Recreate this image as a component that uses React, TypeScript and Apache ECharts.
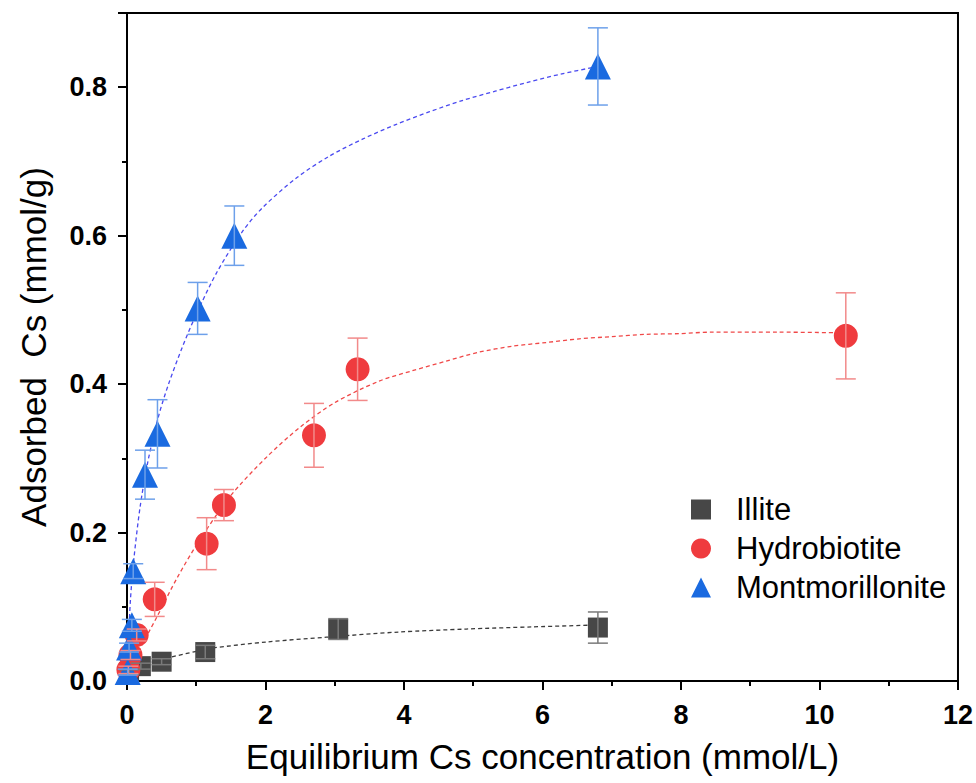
import React, { useEffect, useRef } from "react";
import * as echarts from "echarts";

// ---- Data ----
const illiteX = [0.03, 0.2, 0.5, 1.13, 3.05, 6.8];
const illiteY = [0.012, 0.02, 0.026, 0.039, 0.07, 0.072];
const illiteErr = [0.003, 0.004, 0.004, 0.009, 0.014, 0.021];

const hydroX = [0.02, 0.05, 0.14, 0.4, 1.15, 1.4, 2.7, 3.33, 10.38];
const hydroY = [0.015, 0.035, 0.062, 0.11, 0.185, 0.237, 0.331, 0.42, 0.465];
const hydroErr = [0.005, 0.006, 0.008, 0.023, 0.035, 0.021, 0.043, 0.042, 0.058];

const montX = [0.01, 0.03, 0.07, 0.09, 0.26, 0.44, 1.02, 1.55, 6.8];
const montY = [0.012, 0.045, 0.075, 0.148, 0.278, 0.333, 0.502, 0.6, 0.828];
const montErr = [0.004, 0.006, 0.008, 0.01, 0.033, 0.046, 0.035, 0.04, 0.052];

// fitted curves
const illiteFitX = [0, 0.2, 0.5, 1.05, 1.24, 2.02, 2.88, 3.93, 4.9, 5.85, 6.8];
const illiteFitY = [0.008, 0.02, 0.029, 0.041, 0.0445, 0.0526, 0.059, 0.066, 0.07, 0.0729, 0.0755];

const hydroFitX = [0, 0.14, 0.43, 0.73, 1.05, 1.5, 2.02, 2.5, 3.0, 3.64, 4.12, 4.61, 5.08, 5.56, 6.05, 6.53, 7.0, 7.49, 7.97, 8.44, 9.41, 10.38];
const hydroFitY = [0.005, 0.035, 0.086, 0.14, 0.19, 0.25, 0.302, 0.342, 0.375, 0.404, 0.418, 0.431, 0.443, 0.451, 0.456, 0.461, 0.464, 0.467, 0.468, 0.47, 0.47, 0.469];

const montFitX = [0, 0.02, 0.05, 0.1, 0.19, 0.3, 0.45, 0.6, 0.8, 1.0, 1.3, 1.67, 1.96, 2.45, 2.92, 3.4, 3.89, 4.37, 4.84, 5.33, 5.8, 6.28, 6.8];
const montFitY = [0, 0.05, 0.11, 0.165, 0.235, 0.295, 0.355, 0.4, 0.45, 0.494, 0.551, 0.606, 0.638, 0.678, 0.707, 0.73, 0.75, 0.767, 0.782, 0.795, 0.807, 0.818, 0.828];

const seriesNames = ["Illite", "Hydrobiotite", "Montmorillonite"];
const xTickValues = [0, 2, 4, 6, 8, 10, 12];
const yTickValues = [0, 0.2, 0.4, 0.6, 0.8];

const FONT = "Liberation Sans, Arial, sans-serif";

function zip(xs: number[], ys: number[]) {
  return xs.map((x, i) => [x, ys[i]]);
}
function zip3(xs: number[], ys: number[], es: number[]) {
  return xs.map((x, i) => [x, ys[i], es[i]]);
}

function errorSeries(name: string, data: number[][], color: string) {
  return {
    type: "custom",
    name: name + " error",
    data,
    encode: { x: 0, y: 1 },
    z: 5,
    renderItem: (params: any, api: any) => {
      const x = api.value(0);
      const y = api.value(1);
      const e = api.value(2);
      const top = api.coord([x, y + e]);
      const bot = api.coord([x, y - e]);
      const hw = 10;
      const style = { stroke: color, lineWidth: 1.5 };
      return {
        type: "group",
        children: [
          { type: "line", shape: { x1: top[0], y1: top[1], x2: bot[0], y2: bot[1] }, style },
          { type: "line", shape: { x1: top[0] - hw, y1: top[1], x2: top[0] + hw, y2: top[1] }, style },
          { type: "line", shape: { x1: bot[0] - hw, y1: bot[1], x2: bot[0] + hw, y2: bot[1] }, style },
        ],
      };
    },
  };
}

function fitSeries(name: string, data: number[][], color: string) {
  return {
    type: "line",
    name: name + " fit",
    data,
    smooth: 0.3,
    symbol: "none",
    z: 2,
    lineStyle: { color, width: 1.3, type: [4, 3] },
  };
}

export default function App() {
  const ref = useRef<HTMLDivElement>(null);
  useEffect(() => {
    if (!ref.current) return;
    const chart = echarts.init(ref.current, undefined, { renderer: "svg" });
    const option: any = {
      animation: false,
      backgroundColor: "#fff",
      grid: {
        left: 127,
        right: 16,
        top: 13,
        bottom: 102,
        show: true,
        borderColor: "#000",
        borderWidth: 2,
        backgroundColor: "transparent",
      },
      legend: {
        orient: "vertical",
        left: 686,
        top: 489,
        itemGap: 8,
        itemWidth: 20,
        itemHeight: 20,
        data: seriesNames,
        textStyle: { fontFamily: FONT, fontSize: 31, color: "#000", padding: [0, 0, 0, 20] },
      },
      xAxis: {
        type: "value",
        min: 0,
        max: 12,
        interval: 2,
        name: "Equilibrium Cs concentration (mmol/L)",
        nameLocation: "middle",
        nameGap: 58,
        nameTextStyle: { fontFamily: FONT, fontSize: 35, color: "#000" },
        axisLine: { show: true, onZero: false, lineStyle: { color: "#000", width: 2 } },
        axisTick: { show: true, length: 9, inside: false, lineStyle: { color: "#000", width: 2 } },
        minorTick: { show: true, splitNumber: 2, length: 5, lineStyle: { color: "#000", width: 2 } },
        splitLine: { show: false },
        axisLabel: {
          fontFamily: FONT,
          fontSize: 27,
          fontWeight: "bold",
          color: "#000",
          margin: 20,
          formatter: (v: number) => (xTickValues.includes(v) ? String(v) : ""),
        },
      },
      yAxis: {
        type: "value",
        min: 0,
        max: 0.9,
        interval: 0.2,
        name: "Adsorbed  Cs (mmol/g)",
        nameLocation: "middle",
        nameGap: 76,
        nameTextStyle: { fontFamily: FONT, fontSize: 35, color: "#000" },
        axisLine: { show: true, onZero: false, lineStyle: { color: "#000", width: 2 } },
        axisTick: { show: true, length: 9, inside: false, lineStyle: { color: "#000", width: 2 } },
        minorTick: { show: true, splitNumber: 2, length: 5, lineStyle: { color: "#000", width: 2 } },
        splitLine: { show: false },
        axisLabel: {
          fontFamily: FONT,
          fontSize: 27,
          fontWeight: "bold",
          color: "#000",
          margin: 20,
          showMaxLabel: false,
          formatter: (v: number) => {
            const hit = yTickValues.find((t) => Math.abs(t - v) < 1e-9);
            return hit === undefined ? "" : hit.toFixed(1);
          },
        },
      },
      series: [
        fitSeries("Illite", zip(illiteFitX, illiteFitY), "#3a3a3a"),
        fitSeries("Hydrobiotite", zip(hydroFitX, hydroFitY), "#f04848"),
        fitSeries("Montmorillonite", zip(montFitX, montFitY), "#4a4af0"),
        {
          type: "scatter",
          name: "Illite",
          data: zip(illiteX, illiteY),
          symbol: "rect",
          symbolSize: 20,
          z: 4,
          itemStyle: { color: "#474747", opacity: 1 },
        },
        {
          type: "scatter",
          name: "Hydrobiotite",
          data: zip(hydroX, hydroY),
          symbol: "circle",
          symbolSize: 24,
          z: 4,
          itemStyle: { color: "#ef3b3e", opacity: 1 },
        },
        {
          type: "scatter",
          name: "Montmorillonite",
          data: zip(montX, montY),
          symbol: "triangle",
          symbolSize: 26,
          z: 4,
          itemStyle: { color: "#1a6ae0", opacity: 1 },
        },
        errorSeries("Illite", zip3(illiteX, illiteY, illiteErr), "#7a7a7a"),
        errorSeries("Hydrobiotite", zip3(hydroX, hydroY, hydroErr), "#f28a8a"),
        errorSeries("Montmorillonite", zip3(montX, montY, montErr), "#6da0ea"),
      ],
    };
    chart.setOption(option);
    return () => chart.dispose();
  }, []);
  return (
    <div
      ref={ref}
      style={{ position: "fixed", left: 0, top: 0, width: 976, height: 783, background: "#fff" }}
    />
  );
}
